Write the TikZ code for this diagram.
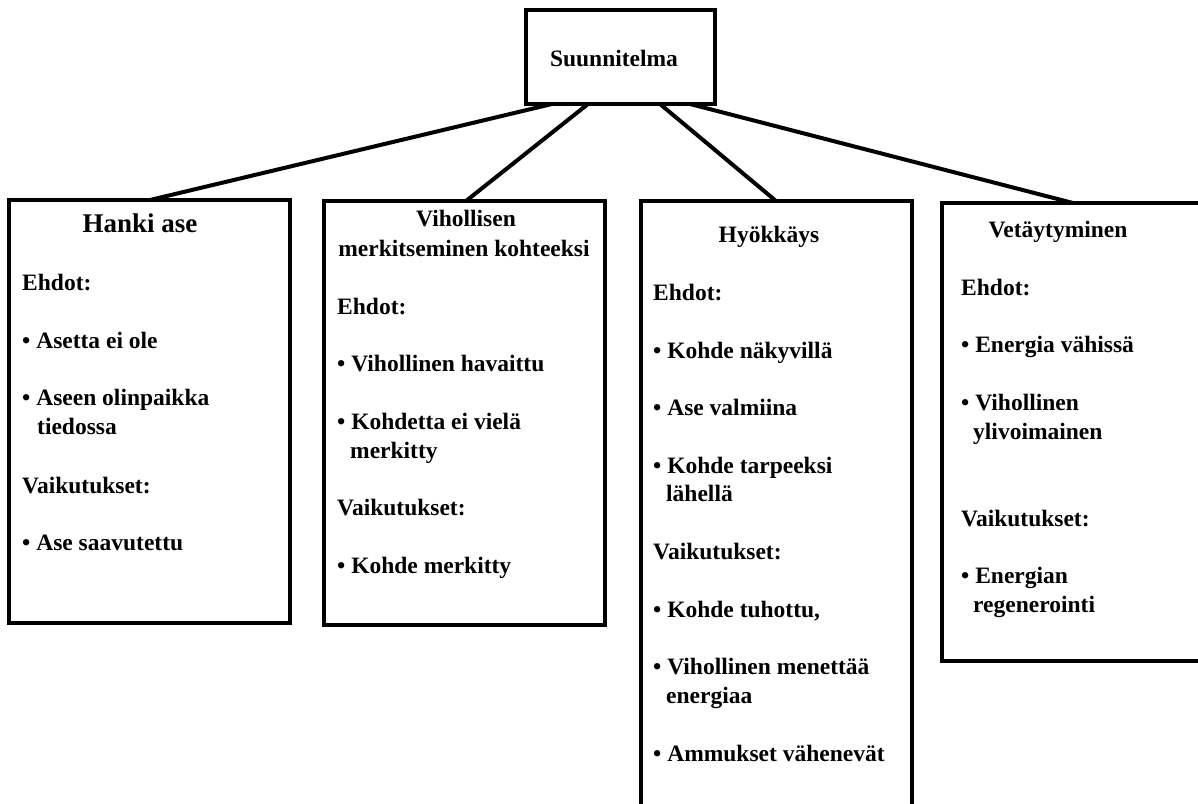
\documentclass[tikz,border=0pt]{standalone}
\usepackage{fontspec}
\setmainfont{Liberation Serif}
\begin{document}
\begin{tikzpicture}[x=1pt,y=-1pt,
  frame/.style={draw=black,line width=4pt,fill=white,inner sep=0pt,outer sep=0pt,anchor=north west},
  link/.style={line width=4pt},
  txt/.style={inner sep=0pt,anchor=base west,font=\fontsize{23.5}{28}\selectfont\bfseries},
  head/.style={inner sep=0pt,anchor=base,font=\fontsize{23.5}{28}\selectfont\bfseries},
  bighead/.style={inner sep=0pt,anchor=base,font=\fontsize{27}{32}\selectfont\bfseries}]
\useasboundingbox (0,0) rectangle (1198,803);

% boxes
\node[frame,minimum width=189pt,minimum height=94pt] (plan) at (526,10) {};
\node[frame,minimum width=281pt,minimum height=423pt] (b1) at (9,200) {};
\node[frame,minimum width=281pt,minimum height=424pt] (b2) at (324,201) {};
\node[frame,minimum width=271pt,minimum height=640pt] (b3) at (641,201) {};
\node[frame,minimum width=280pt,minimum height=458pt] (b4) at (942,203) {};

% connectors
\draw[link] ([xshift=26pt]plan.south west) -- ([xshift=141pt]b1.north west);
\draw[link] ([xshift=62pt]plan.south west) -- ([xshift=142pt]b2.north west);
\draw[link] ([xshift=134pt]plan.south west) -- ([xshift=135pt]b3.north west);
\draw[link] ([xshift=164pt]plan.south west) -- ([xshift=131pt]b4.north west);

% title
\node[head] (tplan) at (614,66) {Suunnitelma};

% Hanki ase
\node[bighead] (h1) at (140,232) {Hanki ase};
\node[txt] (h1a) at (22,290) {Ehdot:};
\node[txt] (h1b) at (22,348) {• Asetta ei ole};
\node[txt] (h1c) at (22,405) {• Aseen olinpaikka};
\node[txt] (h1d) at (37,434) {tiedossa};
\node[txt] (h1e) at (22,493) {Vaikutukset:};
\node[txt] (h1f) at (22,550) {• Ase saavutettu};

% Vihollisen merkitseminen kohteeksi
\node[head] (h2) at (466,226) {Vihollisen};
\node[head] (h2b) at (464,256) {merkitseminen kohteeksi};
\node[txt] (h2c) at (337,314) {Ehdot:};
\node[txt] (h2d) at (337,371) {• Vihollinen havaittu};
\node[txt] (h2e) at (337,429) {• Kohdetta ei vielä};
\node[txt] (h2f) at (350,458) {merkitty};
\node[txt] (h2g) at (337,515) {Vaikutukset:};
\node[txt] (h2h) at (337,573) {• Kohde merkitty};

% Hyokkays
\node[head] (h3) at (769,242) {Hyökkäys};
\node[txt] (h3a) at (653,300) {Ehdot:};
\node[txt] (h3b) at (653,358) {• Kohde näkyvillä};
\node[txt] (h3c) at (653,415) {• Ase valmiina};
\node[txt] (h3d) at (653,473) {• Kohde tarpeeksi};
\node[txt] (h3e) at (666,501) {lähellä};
\node[txt] (h3f) at (653,559) {Vaikutukset:};
\node[txt] (h3g) at (653,617) {• Kohde tuhottu,};
\node[txt] (h3h) at (653,674) {• Vihollinen menettää};
\node[txt] (h3i) at (666,703) {energiaa};
\node[txt] (h3j) at (653,761) {• Ammukset vähenevät};

% Vetaytyminen
\node[head] (h4) at (1058,237) {Vetäytyminen};
\node[txt] (h4a) at (961,295) {Ehdot:};
\node[txt] (h4b) at (961,352) {• Energia vähissä};
\node[txt] (h4c) at (961,410) {• Vihollinen};
\node[txt] (h4d) at (973,439) {ylivoimainen};
\node[txt] (h4e) at (961,526) {Vaikutukset:};
\node[txt] (h4f) at (961,583) {• Energian};
\node[txt] (h4g) at (973,612) {regenerointi};
\end{tikzpicture}
\end{document}
